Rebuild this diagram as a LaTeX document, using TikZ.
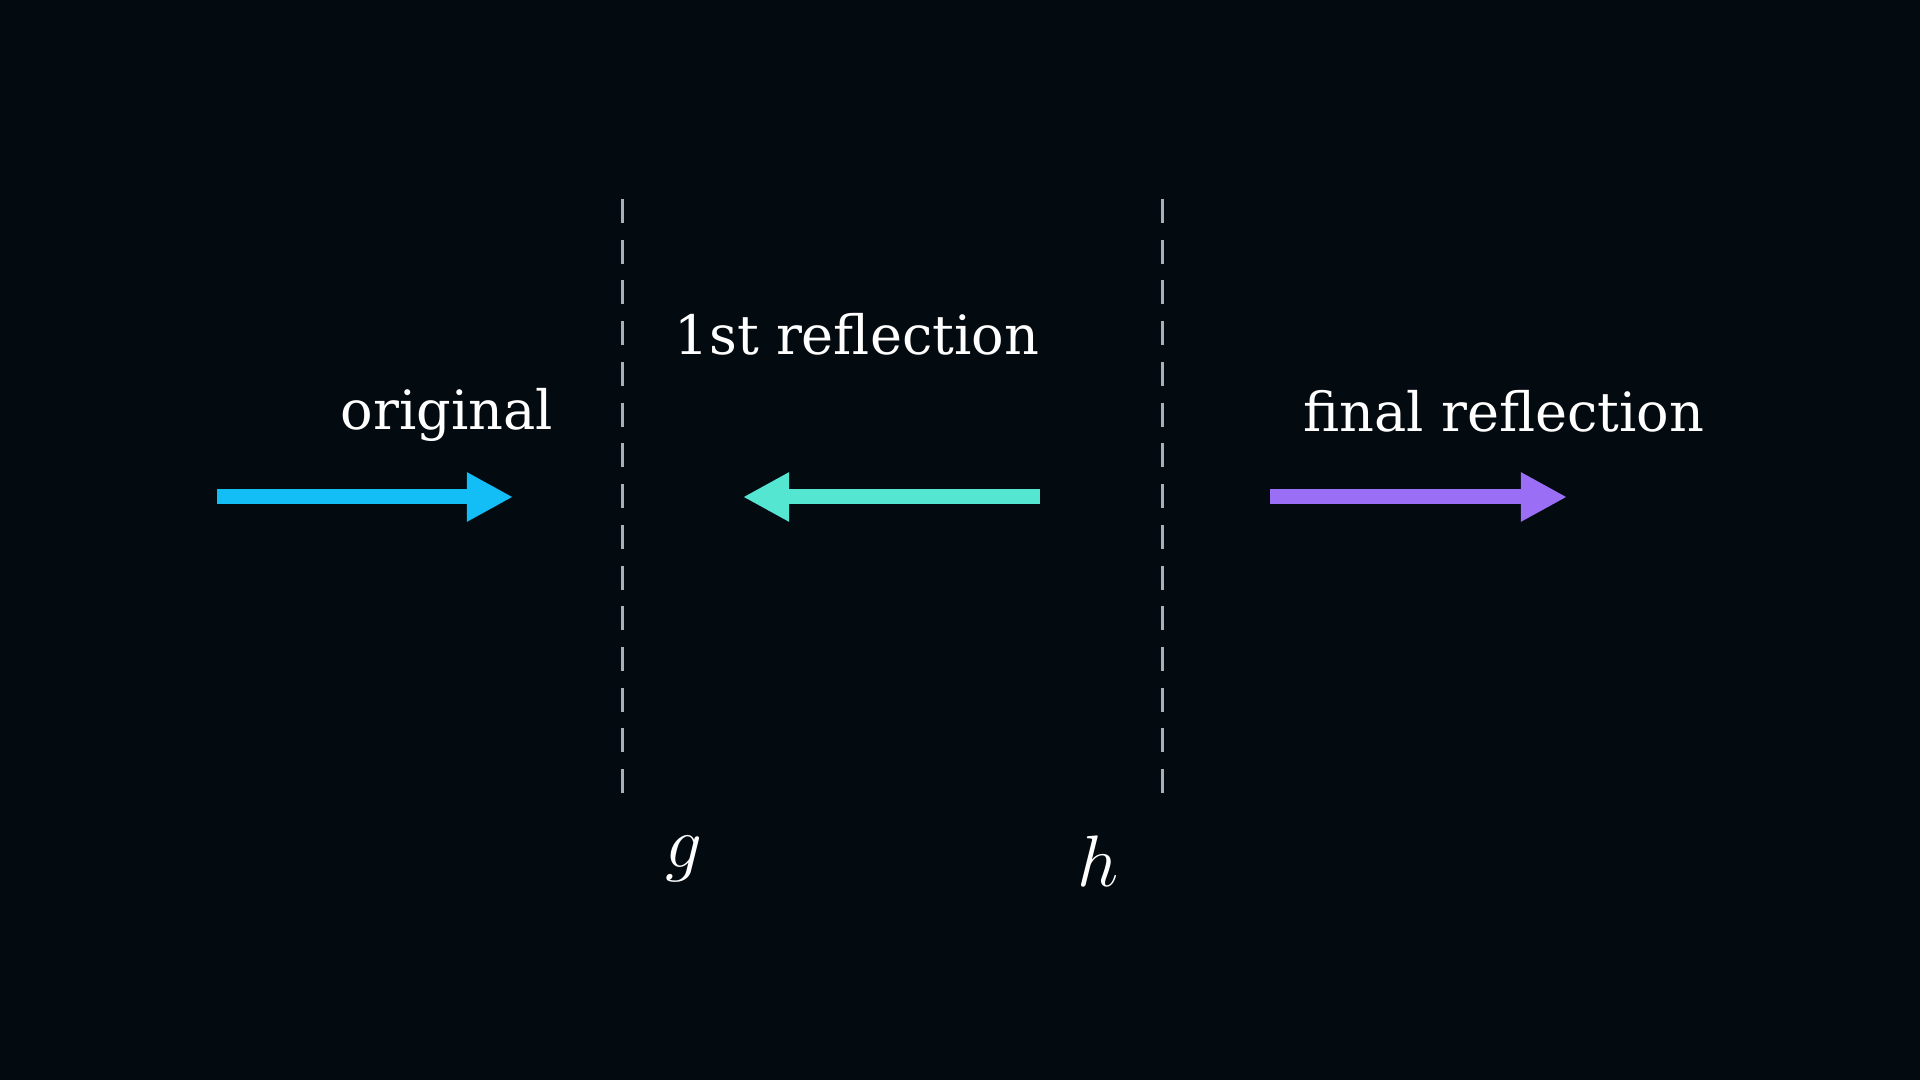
\documentclass[tikz,border=0pt]{standalone}
\usepackage{fontspec}
\setmainfont{DejaVu Serif}
\usetikzlibrary{arrows.meta}
\definecolor{bg}{HTML}{030A10}
\definecolor{origblue}{HTML}{12BEF5}
\definecolor{firstteal}{HTML}{55E6D2}
\definecolor{finalpurple}{HTML}{9A6EF5}
\definecolor{mirrorgray}{HTML}{A8B0B8}
\tikzset{
  vec/.style={line width=0.15cm,-{Triangle[length=0.46cm,width=0.46cm]}},
  mirror/.style={mirrorgray,line width=0.03cm,dash pattern=on 0.24cm off 0.167cm},
  lbl/.style={text=white,anchor=base,inner sep=0pt,font=\fontsize{15.4pt}{18pt}\selectfont},
  mlbl/.style={text=white,anchor=base,inner sep=0pt,font=\fontsize{22pt}{26pt}\selectfont}
}
\begin{document}
\begin{tikzpicture}[x=0.01cm,y=-0.01cm]
\fill[bg] (0,0) rectangle (1920,1080);
% mirror lines
\coordinate (gtop) at (622,199);
\coordinate (gbot) at (622,793);
\coordinate (htop) at (1162,199);
\coordinate (hbot) at (1162,793);
\draw[mirror] (gtop) -- (gbot);
\draw[mirror] (htop) -- (hbot);
% vectors
\coordinate (origtail) at (217,497);
\coordinate (orighead) at (513,497);
\coordinate (firsttail) at (1040,497);
\coordinate (firsthead) at (743,497);
\coordinate (finaltail) at (1270,497);
\coordinate (finalhead) at (1567,497);
\draw[vec,origblue] (origtail) -- (orighead);
\draw[vec,firstteal] (firsttail) -- (firsthead);
\draw[vec,finalpurple] (finaltail) -- (finalhead);
% labels
\node[lbl] (origlabel) at (447,430) {original};
\node[lbl] (firstlabel) at (857,355) {1st reflection};
\node[lbl] (finallabel) at (1504,432) {final reflection};
\node[mlbl] (glabel) at (684,868) {$g$};
\node[mlbl] (hlabel) at (1098,887) {$h$};
\end{tikzpicture}
\end{document}
